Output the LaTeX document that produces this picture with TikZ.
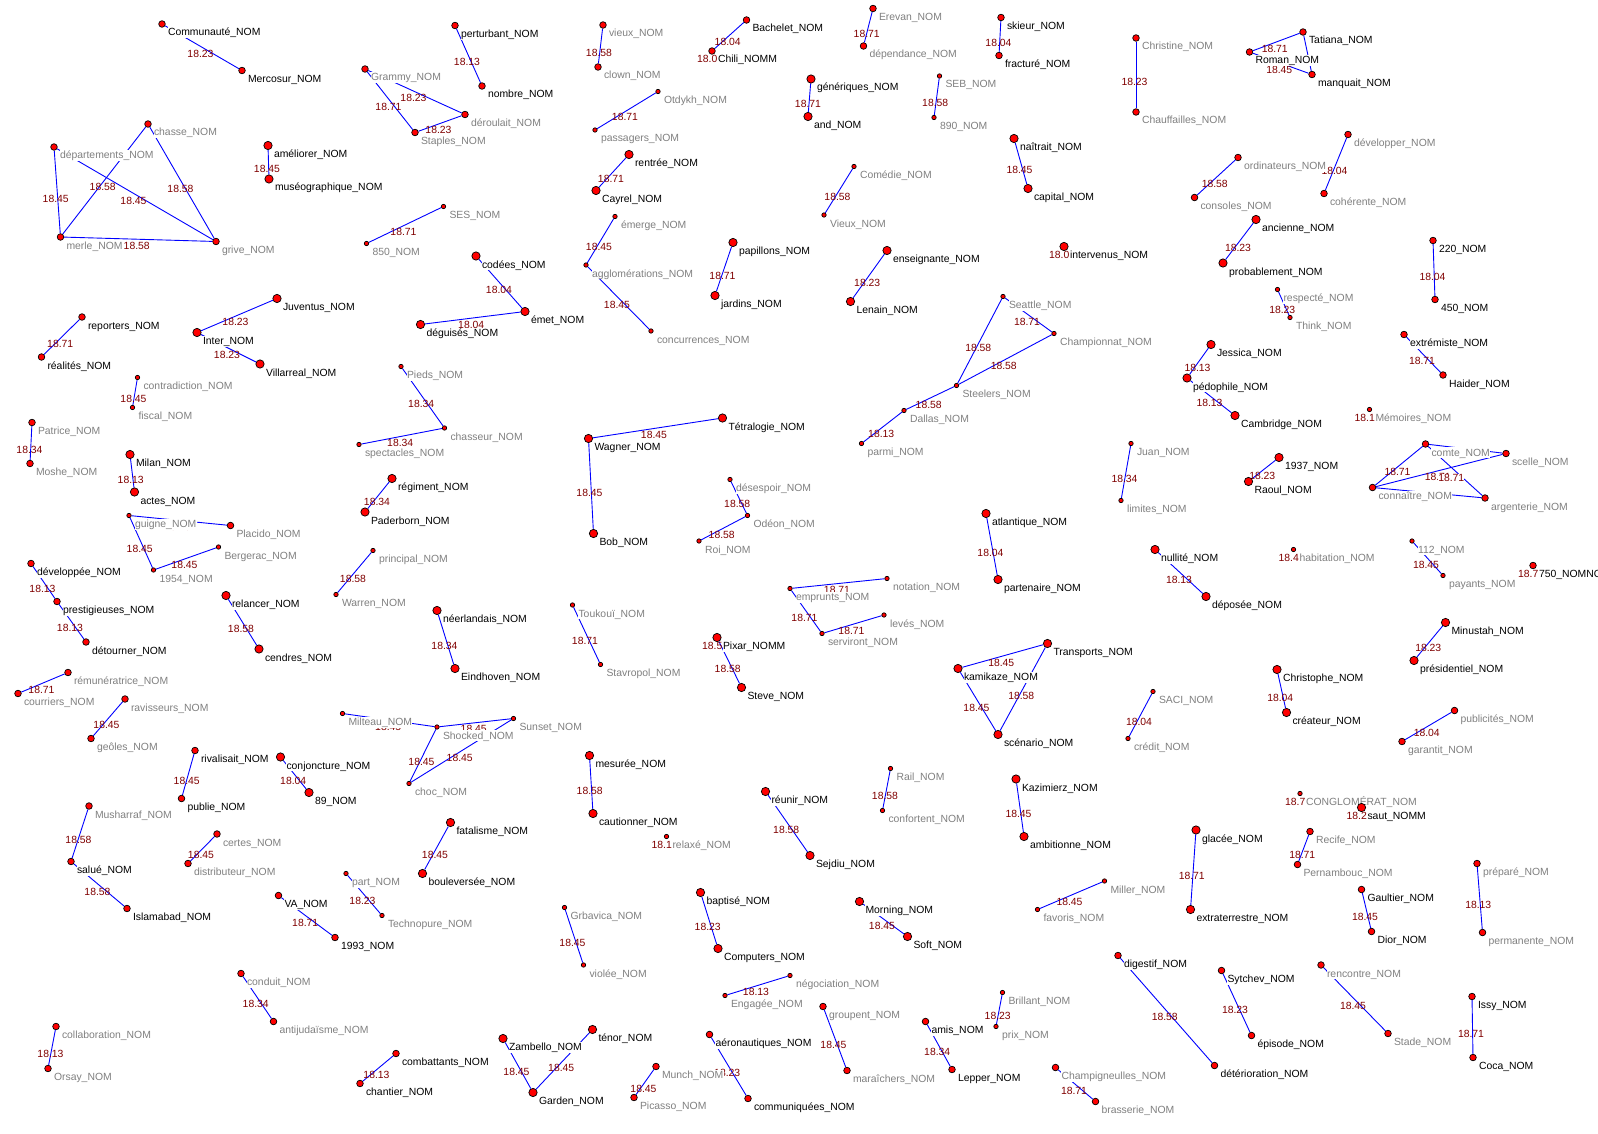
\documentclass[tikz,border=0pt]{standalone}
\usepackage{fontspec}
\setmainfont{Liberation Sans}
\usetikzlibrary{backgrounds}

\definecolor{wtred}{RGB}{128,0,0}
\definecolor{lblgray}{RGB}{128,128,128}

% one vertex: name, x, y, dot size (L/M/S), label colour (k/g), label
\newcommand\vtx[6]{%
  \node[dot#4] (#1) at (#2,#3) {};
  \node[lbl#5] (#1-t) at ([shift={(5.5,12)}]#1.center) {#6};}

\begin{document}
\begin{tikzpicture}[
  x=1pt, y=-1pt, font=\fontsize{10.4}{12}\selectfont,
  vdot/.style={circle, draw=black, fill=red, line width=0.7pt, inner sep=0pt},
  dotL/.style={vdot, minimum size=8.3pt},
  dotM/.style={vdot, minimum size=6.6pt},
  dotS/.style={vdot, minimum size=4.4pt},
  lbl/.style={fill=white, inner xsep=0.3pt, inner ysep=0pt,
    text height=8.8pt, text depth=2.2pt, anchor=base west},
  lblk/.style={lbl, text=black},
  lblg/.style={lbl, text=lblgray},
  link/.style={draw=blue, line width=0.9pt},
  wt/.style={text=wtred, inner sep=0pt, text height=7.4pt, text depth=0pt,
    xshift=-1.5pt, yshift=-6.5pt},
  wtpre/.style={text=wtred, inner sep=0pt, anchor=base east}
]
\useasboundingbox (0,0) rectangle (1598,1134);

\vtx{commu}{162}{24}{M}{k}{Communauté\_NOM}
\vtx{mercosur}{242}{70.5}{M}{k}{Mercosur\_NOM}
\vtx{chasse}{148}{124}{M}{g}{chasse\_NOM}
\vtx{depart}{54}{147}{M}{g}{départements\_NOM}
\vtx{merle}{60.5}{237}{M}{g}{merle\_NOM}
\vtx{grive}{216}{241.5}{M}{g}{grive\_NOM}
\vtx{ameliorer}{268}{145.5}{L}{k}{améliorer\_NOM}
\vtx{museo}{269}{179}{L}{k}{muséographique\_NOM}
\vtx{grammy}{365}{69}{M}{g}{Grammy\_NOM}
\vtx{s850}{366.5}{243.5}{S}{g}{850\_NOM}
\vtx{reporters}{82}{317}{M}{k}{reporters\_NOM}
\vtx{realites}{41.5}{357}{M}{k}{réalités\_NOM}
\vtx{juventus}{277}{298.5}{L}{k}{Juventus\_NOM}
\vtx{inter}{197}{332.5}{L}{k}{Inter\_NOM}
\vtx{villarreal}{260}{364}{L}{k}{Villarreal\_NOM}

\vtx{perturbant}{455}{25.5}{M}{k}{perturbant\_NOM}
\vtx{nombre}{482}{86}{M}{k}{nombre\_NOM}
\vtx{deroulait}{465}{114.5}{M}{g}{déroulait\_NOM}
\vtx{staples}{415}{132.5}{M}{g}{Staples\_NOM}
\vtx{vieux}{603}{25}{M}{g}{vieux\_NOM}
\vtx{clown}{598}{67}{M}{g}{clown\_NOM}
\vtx{bachelet}{746.5}{20}{M}{k}{Bachelet\_NOM}
\vtx{chili}{712}{51}{M}{k}{Chili\_NOMM}
\vtx{otdykh}{658}{91.5}{S}{g}{Otdykh\_NOM}
\vtx{passagers}{595}{130}{S}{g}{passagers\_NOM}
\vtx{rentree}{629}{154.5}{L}{k}{rentrée\_NOM}
\vtx{cayrel}{596}{190.5}{L}{k}{Cayrel\_NOM}
\vtx{ses}{443.5}{206.5}{S}{g}{SES\_NOM}
\vtx{emerge}{615}{216.5}{S}{g}{émerge\_NOM}
\vtx{agglo}{586}{265}{S}{g}{agglomérations\_NOM}
\vtx{concurrences}{651}{331}{S}{g}{concurrences\_NOM}
\vtx{papillons}{733}{242.5}{L}{k}{papillons\_NOM}
\vtx{jardins}{715}{295.5}{L}{k}{jardins\_NOM}
\vtx{codees}{476}{256}{L}{k}{codées\_NOM}
\vtx{emet}{525}{311.5}{L}{k}{émet\_NOM}
\vtx{deguises}{420.5}{324.5}{L}{k}{déguisés\_NOM}
\vtx{pieds}{401}{366.5}{S}{g}{Pieds\_NOM}

\vtx{erevan}{873}{8.5}{M}{g}{Erevan\_NOM}
\vtx{dependance}{863.5}{46}{M}{g}{dépendance\_NOM}
\vtx{skieur}{1001}{17.5}{M}{k}{skieur\_NOM}
\vtx{fracture}{999}{55.5}{M}{k}{fracturé\_NOM}
\vtx{christine}{1136}{38}{M}{g}{Christine\_NOM}
\vtx{chauffailles}{1136}{112}{M}{g}{Chauffailles\_NOM}
\vtx{generiques}{811}{79}{L}{k}{génériques\_NOM}
\vtx{and}{808}{116.5}{L}{k}{and\_NOM}
\vtx{seb}{939.5}{76}{S}{g}{SEB\_NOM}
\vtx{s890}{934}{117.5}{S}{g}{890\_NOM}
\vtx{naitrait}{1014}{138.5}{L}{k}{naîtrait\_NOM}
\vtx{capital}{1028}{188.5}{L}{k}{capital\_NOM}
\vtx{comedie}{854}{166.5}{S}{g}{Comédie\_NOM}
\vtx{vieuxb}{824}{215}{S}{g}{Vieux\_NOM}
\vtx{enseignante}{887}{250.5}{L}{k}{enseignante\_NOM}
\vtx{lenain}{850.5}{301.5}{L}{k}{Lenain\_NOM}
\vtx{intervenus}{1064}{246.5}{L}{k}{intervenus\_NOM}
\vtx{seattle}{1003}{296.5}{S}{g}{Seattle\_NOM}
\vtx{championnat}{1054}{333.5}{S}{g}{Championnat\_NOM}

\vtx{tatiana}{1303}{32}{M}{k}{Tatiana\_NOM}
\vtx{roman}{1249.5}{52}{M}{k}{Roman\_NOM}
\vtx{manquait}{1312}{74.5}{M}{k}{manquait\_NOM}
\vtx{ordinateurs}{1238}{157.5}{M}{g}{ordinateurs\_NOM}
\vtx{consoles}{1194.5}{197.5}{M}{g}{consoles\_NOM}
\vtx{developper}{1348}{134.5}{M}{g}{développer\_NOM}
\vtx{coherente}{1324}{193.5}{M}{g}{cohérente\_NOM}
\vtx{ancienne}{1256}{219.5}{L}{k}{ancienne\_NOM}
\vtx{probablement}{1223}{263}{L}{k}{probablement\_NOM}
\vtx{s220}{1433}{240.5}{M}{k}{220\_NOM}
\vtx{s450}{1435}{299.5}{M}{k}{450\_NOM}
\vtx{respecte}{1277.5}{289.5}{S}{g}{respecté\_NOM}
\vtx{think}{1290}{317.5}{S}{g}{Think\_NOM}
\vtx{jessica}{1211}{344.5}{L}{k}{Jessica\_NOM}
\vtx{extremiste}{1404}{334.5}{M}{k}{extrémiste\_NOM}
\vtx{haider}{1443}{375}{M}{k}{Haider\_NOM}

\vtx{contradiction}{137.5}{377.5}{S}{g}{contradiction\_NOM}
\vtx{fiscal}{132.5}{407.5}{S}{g}{fiscal\_NOM}
\vtx{patrice}{32}{422.5}{M}{g}{Patrice\_NOM}
\vtx{moshe}{30}{463.5}{M}{g}{Moshe\_NOM}
\vtx{milan}{130}{454.5}{L}{k}{Milan\_NOM}
\vtx{actes}{134.5}{492}{L}{k}{actes\_NOM}
\vtx{guigne}{129}{515.5}{S}{g}{guigne\_NOM}
\vtx{placido}{230.5}{525.5}{M}{g}{Placido\_NOM}
\vtx{bergerac}{218.5}{547}{S}{g}{Bergerac\_NOM}
\vtx{s1954}{153.5}{570}{S}{g}{1954\_NOM}
\vtx{developpee}{31}{563.5}{M}{k}{développée\_NOM}
\vtx{prestigieuses}{57}{601.5}{M}{k}{prestigieuses\_NOM}
\vtx{detourner}{86}{642}{M}{k}{détourner\_NOM}
\vtx{relancer}{226}{595.5}{L}{k}{relancer\_NOM}
\vtx{cendres}{259}{649}{L}{k}{cendres\_NOM}
\vtx{remun}{68}{672.5}{M}{g}{rémunératrice\_NOM}
\vtx{courriers}{18}{693.5}{M}{g}{courriers\_NOM}
\vtx{ravisseurs}{125}{699}{M}{g}{ravisseurs\_NOM}
\vtx{geoles}{91}{738.5}{M}{g}{geôles\_NOM}
\vtx{spectacles}{359}{444.5}{S}{g}{spectacles\_NOM}
\vtx{chasseur}{444.5}{428}{S}{g}{chasseur\_NOM}
\vtx{regiment}{392}{478.5}{L}{k}{régiment\_NOM}
\vtx{paderborn}{365}{512}{L}{k}{Paderborn\_NOM}
\vtx{principal}{373}{550.5}{S}{g}{principal\_NOM}
\vtx{warren}{336}{594.5}{S}{g}{Warren\_NOM}
\vtx{milteau}{342.5}{713.5}{S}{g}{Milteau\_NOM}

\vtx{wagner}{588.5}{438.5}{L}{k}{Wagner\_NOM}
\vtx{tetralogie}{722.5}{418}{L}{k}{Tétralogie\_NOM}
\vtx{bob}{593.5}{533.5}{L}{k}{Bob\_NOM}
\vtx{desespoir}{730}{479.5}{S}{g}{désespoir\_NOM}
\vtx{odeon}{747.5}{515.5}{S}{g}{Odéon\_NOM}
\vtx{roi}{699}{541}{S}{g}{Roi\_NOM}
\vtx{neerlandais}{437}{610.5}{L}{k}{néerlandais\_NOM}
\vtx{eindhoven}{455}{668.5}{L}{k}{Eindhoven\_NOM}
\vtx{toukoui}{572.5}{605}{S}{g}{Toukouï\_NOM}
\vtx{stavropol}{600.5}{664.5}{S}{g}{Stavropol\_NOM}
\vtx{pixar}{717}{637.5}{L}{k}{Pixar\_NOMM}
\vtx{steve}{741.5}{687.5}{L}{k}{Steve\_NOM}
\vtx{emprunts}{790}{588.5}{S}{g}{emprunts\_NOM}
\vtx{shocked}{437}{727}{S}{g}{Shocked\_NOM}
\vtx{sunset}{513.5}{718.5}{S}{g}{Sunset\_NOM}

\vtx{steelers}{956.5}{385.5}{S}{g}{Steelers\_NOM}
\vtx{dallas}{904}{410.5}{S}{g}{Dallas\_NOM}
\vtx{parmi}{861.5}{443.5}{S}{g}{parmi\_NOM}
\vtx{juan}{1131}{443.5}{S}{g}{Juan\_NOM}
\vtx{limites}{1121}{500.5}{S}{g}{limites\_NOM}
\vtx{atlantique}{986}{513.5}{L}{k}{atlantique\_NOM}
\vtx{partenaire}{998}{579.5}{L}{k}{partenaire\_NOM}
\vtx{nullite}{1155}{549.5}{L}{k}{nullité\_NOM}
\vtx{deposee}{1206}{596.5}{L}{k}{déposée\_NOM}
\vtx{notation}{887}{578.5}{S}{g}{notation\_NOM}
\vtx{leves}{884}{615}{S}{g}{levés\_NOM}
\vtx{serviront}{822}{633.5}{S}{g}{serviront\_NOM}
\vtx{transports}{1047.5}{643.5}{L}{k}{Transports\_NOM}
\vtx{kamikaze}{958}{668.5}{L}{k}{kamikaze\_NOM}
\vtx{scenario}{998}{734.5}{L}{k}{scénario\_NOM}
\vtx{saci}{1153}{691.5}{S}{g}{SACI\_NOM}
\vtx{credit}{1128}{738.5}{S}{g}{crédit\_NOM}

\vtx{pedophile}{1187}{378}{L}{k}{pédophile\_NOM}
\vtx{cambridge}{1235}{415.5}{L}{k}{Cambridge\_NOM}
\vtx{memoires}{1369.5}{409.5}{S}{g}{Mémoires\_NOM}
\vtx{s1937}{1279}{457.5}{L}{k}{1937\_NOM}
\vtx{raoul}{1248.5}{481.5}{L}{k}{Raoul\_NOM}
\vtx{comte}{1425.5}{444}{M}{g}{comte\_NOM}
\vtx{scelle}{1506}{453.5}{M}{g}{scelle\_NOM}
\vtx{connaitre}{1372.5}{487.5}{M}{g}{connaître\_NOM}
\vtx{argenterie}{1485}{498}{M}{g}{argenterie\_NOM}
\vtx{habitation}{1293.5}{549.5}{S}{g}{habitation\_NOM}
\vtx{s112}{1412}{541}{S}{g}{112\_NOM}
\vtx{payants}{1443}{575.5}{S}{g}{payants\_NOM}
\vtx{s750}{1533}{565.5}{M}{k}{750\_NOMNOM}
\vtx{minustah}{1445.5}{622.5}{L}{k}{Minustah\_NOM}
\vtx{presidentiel}{1414}{660.5}{L}{k}{présidentiel\_NOM}
\vtx{christophe}{1277}{669.5}{L}{k}{Christophe\_NOM}
\vtx{createur}{1286.5}{712.5}{L}{k}{créateur\_NOM}
\vtx{publicites}{1454.5}{710.5}{M}{g}{publicités\_NOM}
\vtx{garantit}{1402}{741.5}{M}{g}{garantit\_NOM}

\vtx{rivalisait}{195}{750.5}{M}{k}{rivalisait\_NOM}
\vtx{publie}{181.5}{798.5}{M}{k}{publie\_NOM}
\vtx{conjoncture}{280.5}{757}{L}{k}{conjoncture\_NOM}
\vtx{s89}{309}{792.5}{L}{k}{89\_NOM}
\vtx{musharraf}{89}{806}{M}{g}{Musharraf\_NOM}
\vtx{salue}{71}{861.5}{M}{k}{salué\_NOM}
\vtx{islamabad}{127}{908.5}{M}{k}{Islamabad\_NOM}
\vtx{certes}{217}{834}{M}{g}{certes\_NOM}
\vtx{distributeur}{188}{863.5}{M}{g}{distributeur\_NOM}
\vtx{part}{346}{873.5}{S}{g}{part\_NOM}
\vtx{technopure}{382}{915.5}{S}{g}{Technopure\_NOM}
\vtx{va}{278.5}{895.5}{M}{k}{VA\_NOM}
\vtx{s1993}{335}{937.5}{M}{k}{1993\_NOM}
\vtx{conduit}{241}{973.5}{M}{g}{conduit\_NOM}
\vtx{antijud}{273.5}{1021.5}{M}{g}{antijudaïsme\_NOM}
\vtx{collab}{56}{1026.5}{M}{g}{collaboration\_NOM}
\vtx{orsay}{48}{1068.5}{M}{g}{Orsay\_NOM}
\vtx{combattants}{396}{1053.5}{M}{k}{combattants\_NOM}
\vtx{chantier}{360}{1083.5}{M}{k}{chantier\_NOM}

\vtx{choc}{409}{783.5}{S}{g}{choc\_NOM}
\vtx{mesuree}{589.5}{755.5}{L}{k}{mesurée\_NOM}
\vtx{cautionner}{593}{813.5}{L}{k}{cautionner\_NOM}
\vtx{relaxe}{666.5}{836.5}{S}{g}{relaxé\_NOM}
\vtx{reunir}{765.5}{791.5}{L}{k}{réunir\_NOM}
\vtx{sejdiu}{810}{855.5}{L}{k}{Sejdiu\_NOM}
\vtx{fatalisme}{450.5}{822.5}{L}{k}{fatalisme\_NOM}
\vtx{bouleversee}{422.5}{873.5}{L}{k}{bouleversée\_NOM}
\vtx{grbavica}{564.5}{907.5}{S}{g}{Grbavica\_NOM}
\vtx{violee}{583.5}{965}{S}{g}{violée\_NOM}
\vtx{baptise}{700.5}{892.5}{L}{k}{baptisé\_NOM}
\vtx{computers}{718}{948.5}{L}{k}{Computers\_NOM}
\vtx{negociation}{790}{975.5}{S}{g}{négociation\_NOM}
\vtx{engagee}{725}{995.5}{S}{g}{Engagée\_NOM}
\vtx{zambello}{503}{1038.5}{L}{k}{Zambello\_NOM}
\vtx{tenor}{592.5}{1029.5}{L}{k}{ténor\_NOM}
\vtx{garden}{533}{1092.5}{L}{k}{Garden\_NOM}
\vtx{munch}{656}{1066.5}{M}{g}{Munch\_NOM}
\vtx{picasso}{634}{1097.5}{M}{g}{Picasso\_NOM}
\vtx{aero}{709.5}{1034.5}{M}{k}{aéronautiques\_NOM}
\vtx{communiquees}{748}{1098.5}{M}{k}{communiquées\_NOM}

\vtx{rail}{890.5}{768.5}{S}{g}{Rail\_NOM}
\vtx{confortent}{882.5}{810.5}{S}{g}{confortent\_NOM}
\vtx{kazimierz}{1016}{779}{L}{k}{Kazimierz\_NOM}
\vtx{ambitionne}{1024}{836.5}{L}{k}{ambitionne\_NOM}
\vtx{glacee}{1196}{830}{L}{k}{glacée\_NOM}
\vtx{extraterrestre}{1190.5}{909.5}{L}{k}{extraterrestre\_NOM}
\vtx{morning}{859.5}{901.5}{L}{k}{Morning\_NOM}
\vtx{soft}{907.5}{936.5}{L}{k}{Soft\_NOM}
\vtx{miller}{1104.5}{881}{S}{g}{Miller\_NOM}
\vtx{favoris}{1037.5}{909.5}{S}{g}{favoris\_NOM}
\vtx{digestif}{1118}{955.5}{M}{k}{digestif\_NOM}
\vtx{deterioration}{1214.5}{1065.5}{M}{k}{détérioration\_NOM}
\vtx{groupent}{823}{1006.5}{M}{g}{groupent\_NOM}
\vtx{maraichers}{847}{1070.5}{M}{g}{maraîchers\_NOM}
\vtx{amis}{925.5}{1021.5}{M}{k}{amis\_NOM}
\vtx{lepper}{952}{1069.5}{M}{k}{Lepper\_NOM}
\vtx{brillant}{1002.5}{992.5}{S}{g}{Brillant\_NOM}
\vtx{prix}{996}{1026.5}{S}{g}{prix\_NOM}
\vtx{champ}{1055.5}{1067.5}{M}{g}{Champigneulles\_NOM}
\vtx{brasserie}{1095.5}{1101.5}{M}{g}{brasserie\_NOM}

\vtx{conglomerat}{1300}{793.5}{S}{g}{CONGLOMÉRAT\_NOM}
\vtx{saut}{1361.5}{807.5}{L}{k}{saut\_NOMM}
\vtx{recife}{1310}{831.5}{M}{g}{Recife\_NOM}
\vtx{pernambouc}{1297.5}{864.5}{M}{g}{Pernambouc\_NOM}
\vtx{gaultier}{1361.5}{889.5}{M}{k}{Gaultier\_NOM}
\vtx{dior}{1371.5}{931.5}{M}{k}{Dior\_NOM}
\vtx{prepare}{1477}{863.5}{M}{g}{préparé\_NOM}
\vtx{permanente}{1482.5}{932.5}{M}{g}{permanente\_NOM}
\vtx{sytchev}{1221.5}{970.5}{M}{k}{Sytchev\_NOM}
\vtx{episode}{1251.5}{1035.5}{M}{k}{épisode\_NOM}
\vtx{rencontre}{1321}{965}{M}{g}{rencontre\_NOM}
\vtx{stade}{1388}{1033.5}{M}{g}{Stade\_NOM}
\vtx{issy}{1472}{996.5}{M}{k}{Issy\_NOM}
\vtx{coca}{1473}{1057.5}{M}{k}{Coca\_NOM}

\begin{scope}[on background layer]
\fill[white] (0,0) rectangle (1598,1134);
\draw[link] (commu) -- node[wt]{18.23} (mercosur);
\draw[link] (depart) -- node[wt]{18.45} (merle);
\draw[link] (chasse) -- node[wt]{18.58} (merle);
\draw[link] (depart) -- node[wt]{18.45} (grive);
\draw[link] (chasse) -- node[wt]{18.58} (grive);
\draw[link] (merle) -- node[wt]{18.58} (grive);
\draw[link] (ameliorer) -- node[wt]{18.45} (museo);
\draw[link] (grammy) -- node[wt]{18.23} (deroulait);
\draw[link] (grammy) -- node[wt]{18.71} (staples);
\draw[link] (staples) -- node[wt]{18.23} (deroulait);
\draw[link] (perturbant) -- node[wt]{18.13} (nombre);
\draw[link] (vieux) -- node[wt]{18.58} (clown);
\draw[link] (bachelet) -- node[wt]{18.04} (chili);
\draw[link] (otdykh) -- node[wt]{18.71} (passagers);
\draw[link] (rentree) -- node[wt]{18.71} (cayrel);
\draw[link] (ses) -- node[wt]{18.71} (s850);
\draw[link] (emerge) -- node[wt]{18.45} (agglo);
\draw[link] (agglo) -- node[wt]{18.45} (concurrences);
\draw[link] (papillons) -- node[wt]{18.71} (jardins);
\draw[link] (codees) -- node[wt]{18.04} (emet);
\draw[link] (emet) -- node[wt]{18.04} (deguises);
\draw[link] (erevan) -- node[wt]{18.71} (dependance);
\draw[link] (skieur) -- node[wt]{18.04} (fracture);
\draw[link] (christine) -- node[wt]{18.23} (chauffailles);
\draw[link] (generiques) -- node[wt]{18.71} (and);
\draw[link] (seb) -- node[wt]{18.58} (s890);
\draw[link] (naitrait) -- node[wt]{18.45} (capital);
\draw[link] (comedie) -- node[wt]{18.58} (vieuxb);
\draw[link] (enseignante) -- node[wt]{18.23} (lenain);
\draw[link] (seattle) -- node[wt]{18.71} (championnat);
\draw[link] (seattle) -- node[wt]{18.58} (steelers);
\draw[link] (championnat) -- node[wt]{18.58} (steelers);
\draw[link] (steelers) -- node[wt]{18.58} (dallas);
\draw[link] (dallas) -- node[wt]{18.13} (parmi);
\draw[link] (roman) -- node[wt]{18.71} (tatiana);
\draw[link] (roman) -- node[wt]{18.45} (manquait);
\draw[link] (tatiana) -- (manquait);
\draw[link] (ordinateurs) -- node[wt]{18.58} (consoles);
\draw[link] (developper) -- node[wt]{18.04} (coherente);
\draw[link] (ancienne) -- node[wt]{18.23} (probablement);
\draw[link] (s220) -- node[wt]{18.04} (s450);
\draw[link] (respecte) -- node[wt]{18.23} (think);
\draw[link] (jessica) -- node[wt]{18.13} (pedophile);
\draw[link] (pedophile) -- node[wt]{18.13} (cambridge);
\draw[link] (extremiste) -- node[wt]{18.71} (haider);
\draw[link] (reporters) -- node[wt]{18.71} (realites);
\draw[link] (juventus) -- node[wt]{18.23} (inter);
\draw[link] (inter) -- node[wt]{18.23} (villarreal);
\draw[link] (contradiction) -- node[wt]{18.45} (fiscal);
\draw[link] (patrice) -- node[wt]{18.34} (moshe);
\draw[link] (milan) -- node[wt]{18.13} (actes);
\draw[link] (guigne) -- node[wt]{18.45} (placido);
\draw[link] (guigne) -- node[wt]{18.45} (s1954);
\draw[link] (s1954) -- node[wt]{18.45} (bergerac);
\draw[link] (developpee) -- node[wt]{18.13} (prestigieuses);
\draw[link] (prestigieuses) -- node[wt]{18.13} (detourner);
\draw[link] (relancer) -- node[wt]{18.58} (cendres);
\draw[link] (remun) -- node[wt]{18.71} (courriers);
\draw[link] (ravisseurs) -- node[wt]{18.45} (geoles);
\draw[link] (pieds) -- node[wt]{18.34} (chasseur);
\draw[link] (spectacles) -- node[wt]{18.34} (chasseur);
\draw[link] (regiment) -- node[wt]{18.34} (paderborn);
\draw[link] (principal) -- node[wt]{18.58} (warren);
\draw[link] (wagner) -- node[wt]{18.45} (tetralogie);
\draw[link] (wagner) -- node[wt]{18.45} (bob);
\draw[link] (desespoir) -- node[wt]{18.58} (odeon);
\draw[link] (odeon) -- node[wt]{18.58} (roi);
\draw[link] (neerlandais) -- node[wt]{18.34} (eindhoven);
\draw[link] (toukoui) -- node[wt]{18.71} (stavropol);
\draw[link] (pixar) -- node[wt]{18.58} (steve);
\draw[link] (emprunts) -- node[wt]{18.71} (notation);
\draw[link] (emprunts) -- node[wt]{18.71} (serviront);
\draw[link] (serviront) -- node[wt]{18.71} (leves);
\draw[link] (milteau) -- node[wt]{18.45} (shocked);
\draw[link] (shocked) -- node[wt]{18.45} (sunset);
\draw[link] (shocked) -- node[wt]{18.45} (choc);
\draw[link] (sunset) -- node[wt]{18.45} (choc);
\draw[link] (juan) -- node[wt]{18.34} (limites);
\draw[link] (atlantique) -- node[wt]{18.04} (partenaire);
\draw[link] (nullite) -- node[wt]{18.13} (deposee);
\draw[link] (kamikaze) -- node[wt]{18.45} (transports);
\draw[link] (kamikaze) -- node[wt]{18.45} (scenario);
\draw[link] (transports) -- node[wt]{18.58} (scenario);
\draw[link] (saci) -- node[wt]{18.04} (credit);
\draw[link] (s1937) -- node[wt]{18.23} (raoul);
\draw[link] (comte) -- node[wt]{18.71} (scelle);
\draw[link] (comte) -- node[wt]{18.71} (connaitre);
\draw[link] (connaitre) -- node[wt]{18.71} (scelle);
\draw[link] (comte) -- node[wt, fill=white, xshift=-2.5pt]{18.71} (argenterie);
\draw[link] (connaitre) -- node[wt]{18.71} (argenterie);
\draw[link] (s112) -- node[wt]{18.45} (payants);
\draw[link] (minustah) -- node[wt]{18.23} (presidentiel);
\draw[link] (christophe) -- node[wt]{18.04} (createur);
\draw[link] (publicites) -- node[wt]{18.04} (garantit);
\draw[link] (rivalisait) -- node[wt]{18.45} (publie);
\draw[link] (conjoncture) -- node[wt]{18.04} (s89);
\draw[link] (musharraf) -- node[wt]{18.58} (salue);
\draw[link] (salue) -- node[wt]{18.58} (islamabad);
\draw[link] (certes) -- node[wt]{18.45} (distributeur);
\draw[link] (part) -- node[wt]{18.23} (technopure);
\draw[link] (va) -- node[wt]{18.71} (s1993);
\draw[link] (conduit) -- node[wt]{18.34} (antijud);
\draw[link] (collab) -- node[wt]{18.13} (orsay);
\draw[link] (combattants) -- node[wt]{18.13} (chantier);
\draw[link] (mesuree) -- node[wt]{18.58} (cautionner);
\draw[link] (reunir) -- node[wt]{18.58} (sejdiu);
\draw[link] (fatalisme) -- node[wt]{18.45} (bouleversee);
\draw[link] (grbavica) -- node[wt]{18.45} (violee);
\draw[link] (baptise) -- node[wt]{18.23} (computers);
\draw[link] (negociation) -- node[wt]{18.13} (engagee);
\draw[link] (zambello) -- node[wt]{18.45} (garden);
\draw[link] (tenor) -- node[wt]{18.45} (garden);
\draw[link] (munch) -- node[wt]{18.45} (picasso);
\draw[link] (aero) -- node[wt]{18.23} (communiquees);
\draw[link] (rail) -- node[wt]{18.58} (confortent);
\draw[link] (kazimierz) -- node[wt]{18.45} (ambitionne);
\draw[link] (glacee) -- node[wt]{18.71} (extraterrestre);
\draw[link] (morning) -- node[wt]{18.45} (soft);
\draw[link] (miller) -- node[wt]{18.45} (favoris);
\draw[link] (digestif) -- node[wt]{18.58} (deterioration);
\draw[link] (groupent) -- node[wt]{18.45} (maraichers);
\draw[link] (amis) -- node[wt]{18.34} (lepper);
\draw[link] (brillant) -- node[wt]{18.23} (prix);
\draw[link] (champ) -- node[wt]{18.71} (brasserie);
\draw[link] (recife) -- node[wt]{18.71} (pernambouc);
\draw[link] (gaultier) -- node[wt]{18.45} (dior);
\draw[link] (prepare) -- node[wt]{18.13} (permanente);
\draw[link] (sytchev) -- node[wt]{18.23} (episode);
\draw[link] (rencontre) -- node[wt]{18.45} (stade);
\draw[link] (issy) -- node[wt]{18.71} (coca);
\node[wtpre] at (chili-t.base west) {18.0};
\node[wtpre] at (intervenus-t.base west) {18.0};
\node[wtpre] at (pixar-t.base west) {18.5};
\node[wtpre] at (memoires-t.base west) {18.1};
\node[wtpre] at (habitation-t.base west) {18.4};
\node[wtpre] at (s750-t.base west) {18.7};
\node[wtpre] at (relaxe-t.base west) {18.1};
\node[wtpre] at (conglomerat-t.base west) {18.7};
\node[wtpre] at (saut-t.base west) {18.2};
\end{scope}
\end{tikzpicture}
\end{document}
